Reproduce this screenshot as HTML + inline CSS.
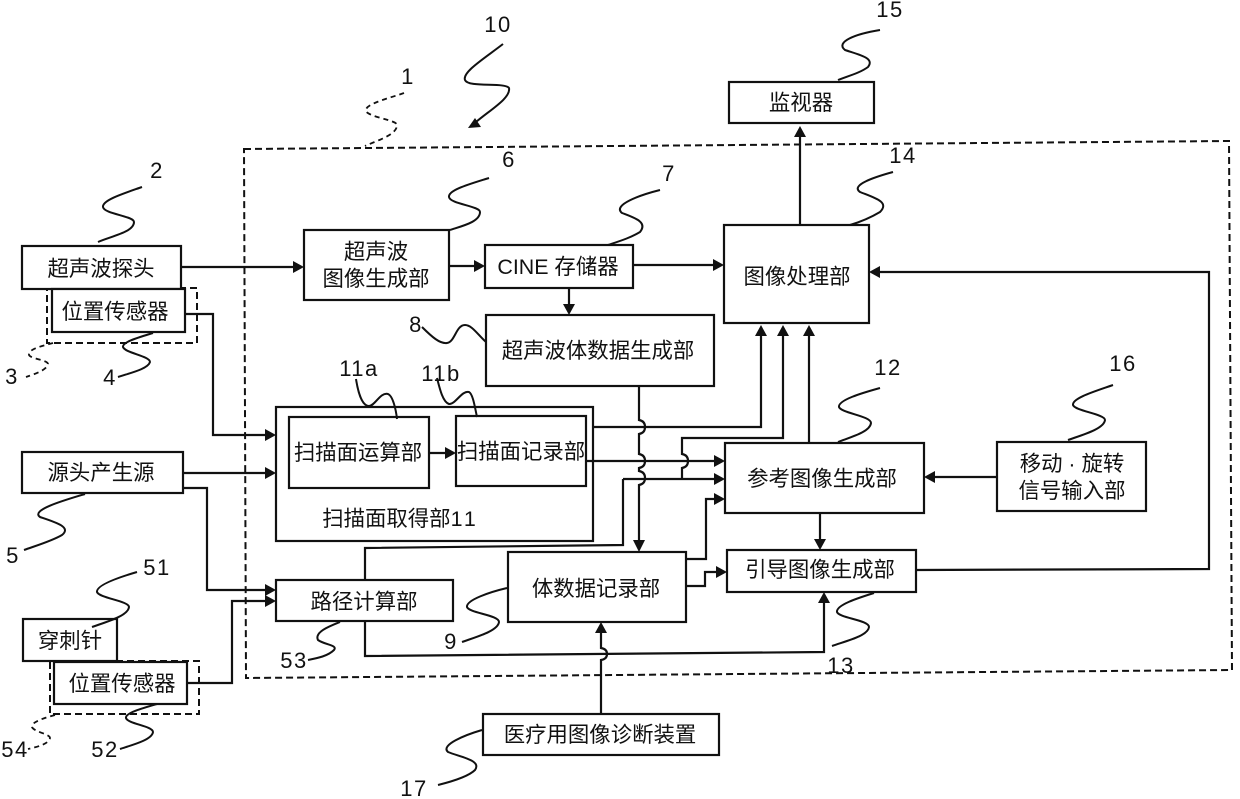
<!DOCTYPE html>
<html><head><meta charset="utf-8"><style>
html,body{margin:0;padding:0;background:#fff}
svg{display:block}
text{font-family:"Liberation Sans","Noto Sans CJK SC",sans-serif;fill:#111}
.c{font-size:21.4px;text-anchor:middle}
.n{font-size:22px;text-anchor:middle;letter-spacing:1.5px}
.b{fill:#fff;stroke:#111;stroke-width:2.2}
.l{fill:none;stroke:#111;stroke-width:2.2}
.d{fill:none;stroke:#111;stroke-width:2;stroke-dasharray:7 4}
.s{fill:none;stroke:#111;stroke-width:2}
.ds{fill:none;stroke:#111;stroke-width:1.8;stroke-dasharray:5 4}
.a{fill:#111;stroke:none}
</style></head><body>
<svg width="1240" height="799" viewBox="0 0 1240 799" xmlns="http://www.w3.org/2000/svg">
<rect width="1240" height="799" fill="#fff"/>
<path class="d" d="M244,149 L1229,141 L1232,670 L246,678 Z"/>
<rect class="d" x="47" y="288" width="150" height="55"/>
<rect class="d" x="50" y="661" width="149" height="53"/>
<!-- connectors -->
<path class="l" d="M181,267H296M449,266H477M633,265H716M569,288V307M800,225V133"/>
<path class="l" d="M185,314H213V435H268M183,473H268M183,488H207V590H268M187,683H232V601H268M429,453H448"/>
<path class="l" d="M639,386V420q6,1 6,7t-6,7V454q6,1 6,7t-6,7V471q6,1 6,7t-6,7V540"/>
<path class="l" d="M593,427H761V333"/>
<path class="l" d="M586,461H714"/>
<path class="l" d="M623,479V545L365,548V580M623,479H714"/>
<path class="l" d="M682,478V468q6,-1 6,-7t-6,-7V438H783V333"/>
<path class="l" d="M809,443V333M686,559H706V499H716M686,586H705V572H718"/>
<path class="l" d="M365,621V656L824,652V600"/>
<path class="l" d="M601,714V660q6,-1 6,-6t-6,-6V630"/>
<path class="l" d="M820,513V542M997,477H932M916,570L1209,569V272H877"/>
<!-- arrowheads -->
<g class="a">
<path d="M304,267l-11,-6v12zM485,266l-11,-6v12zM724,265l-11,-6v12zM569,315l-6,-11h12zM800,126l-6,11h12z"/>
<path d="M276,435l-11,-6v12zM276,473l-11,-6v12zM276,590l-11,-6v12zM276,601l-11,-6v12zM456,453l-11,-6v12z"/>
<path d="M639,552l-6,-12h12zM761,325l-6,11h12zM783,325l-6,11h12zM809,325l-6,11h12z"/>
<path d="M725,461l-11,-6v12zM725,479l-11,-6v12zM725,499l-11,-6v12zM727,572l-11,-6v12z"/>
<path d="M824,592l-6,11h12zM601,622l-6,11h12zM820,550l-6,-11h12zM924,477l11,-6v12zM869,272l11,-6v12z"/>
<path d="M468,128l7,-10l6,9z"/>
</g>
<!-- boxes -->
<rect class="b" x="22" y="246" width="159" height="43"/>
<rect class="b" x="52" y="289" width="133" height="43"/>
<rect class="b" x="304" y="230" width="145" height="70"/>
<rect class="b" x="485" y="245" width="148" height="43"/>
<rect class="b" x="486" y="315" width="228" height="71"/>
<rect class="b" x="724" y="225" width="145" height="98"/>
<rect class="b" x="729" y="82" width="145" height="41"/>
<rect class="l" x="276" y="407" width="317" height="134"/>
<rect class="b" x="289" y="417" width="140" height="71"/>
<rect class="b" x="456" y="416" width="130" height="70"/>
<rect class="b" x="725" y="443" width="199" height="70"/>
<rect class="b" x="727" y="550" width="189" height="42"/>
<rect class="b" x="508" y="552" width="178" height="70"/>
<rect class="b" x="276" y="580" width="177" height="41"/>
<rect class="b" x="997" y="442" width="149" height="69"/>
<rect class="b" x="22" y="452" width="161" height="41"/>
<rect class="b" x="23" y="619" width="94" height="42"/>
<rect class="b" x="54" y="662" width="133" height="42"/>
<rect class="b" x="483" y="714" width="236" height="41"/>
<!-- box labels -->
<text class="c" x="101" y="276">超声波探头</text>
<text class="c" x="115" y="319">位置传感器</text>
<text class="c" x="376" y="259">超声波</text>
<text class="c" x="376" y="286">图像生成部</text>
<text class="c" x="558" y="274">CINE 存储器</text>
<text class="c" x="598" y="358">超声波体数据生成部</text>
<text class="c" x="797" y="284">图像处理部</text>
<text class="c" x="801" y="110">监视器</text>
<text class="c" x="358" y="460">扫描面运算部</text>
<text class="c" x="521" y="459">扫描面记录部</text>
<text class="c" x="399" y="526">扫描面取得部1<tspan dx="3">1</tspan></text>
<text class="c" x="822" y="486">参考图像生成部</text>
<text class="c" x="820" y="577">引导图像生成部</text>
<text class="c" x="596" y="596">体数据记录部</text>
<text class="c" x="364" y="609">路径计算部</text>
<text class="c" x="1072" y="471">移动 · 旋转</text>
<text class="c" x="1072" y="498">信号输入部</text>
<text class="c" x="101" y="480">源头产生源</text>
<text class="c" x="70" y="648">穿刺针</text>
<text class="c" x="122" y="691">位置传感器</text>
<text class="c" x="600" y="742">医疗用图像诊断装置</text>
<!-- squiggles -->
<path class="s" d="M503,44C485,58 462,72 465,80C468,88 505,82 509,88C511,98 490,110 476,122"/>
<path class="ds" d="M404,93C390,98 364,104 366,111C368,117 397,120 397,125C397,135 378,140 365,146"/>
<path class="s" d="M880,30C855,34 835,42 845,50C860,55 875,58 868,67C860,73 848,76 838,80"/>
<path class="s" d="M142,187C125,193 102,200 103,207C104,214 134,216 134,222C134,232 112,236 98,242"/>
<path class="s" d="M489,178C470,184 448,190 449,197C450,204 480,206 480,212C480,222 462,226 450,230"/>
<path class="s" d="M660,190C640,195 612,205 622,213C635,218 648,222 640,232C630,238 620,241 608,245"/>
<path class="s" d="M893,172C875,177 850,185 860,192C875,198 890,202 880,212C870,218 860,222 850,225"/>
<path class="ds" d="M53,343C42,346 28,349 29,355C31,359 48,360 48,364C47,370 35,374 26,377"/>
<path class="s" d="M153,333C140,337 122,342 123,347C125,353 150,356 150,362C148,369 130,373 118,377"/>
<path class="s" d="M85,494C65,500 30,510 40,517C55,522 72,527 62,535C52,541 35,546 24,550"/>
<path class="s" d="M137,572C120,577 96,585 97,592C99,598 129,601 129,607C128,616 106,622 92,627"/>
<path class="s" d="M507,588C490,592 466,600 467,607C469,613 499,615 499,622C498,631 476,637 462,642"/>
<path class="s" d="M340,622C330,626 314,632 318,640C325,645 338,645 334,650C328,656 318,658 308,660"/>
<path class="s" d="M874,593C858,598 836,605 837,612C839,618 869,620 869,627C868,636 846,641 832,646"/>
<path class="ds" d="M55,715C44,718 31,722 32,727C34,732 50,734 50,738C49,744 37,747 28,749"/>
<path class="s" d="M157,704C143,708 125,713 126,718C128,724 153,726 153,732C152,740 132,745 120,749"/>
<path class="s" d="M482,730C465,735 440,745 448,752C460,757 482,760 475,770C468,777 450,782 438,785"/>
<path class="s" d="M422,327C432,337 440,344 447,343C455,342 456,325 465,325C472,325 478,335 486,342"/>
<path class="s" d="M356,379C358,392 362,406 369,406C375,406 380,392 388,394C393,396 396,410 397,419"/>
<path class="s" d="M437,378C440,390 443,402 449,404C455,405 462,390 469,392C473,394 475,408 477,417"/>
<path class="s" d="M880,388C862,393 838,400 839,407C841,413 871,416 871,423C870,432 851,437 838,442"/>
<path class="s" d="M1113,385C1096,391 1072,398 1073,405C1075,411 1105,414 1105,420C1104,429 1082,435 1068,440"/>
<!-- numeric labels -->
<text class="n" x="498" y="32">10</text>
<text class="n" x="408" y="84">1</text>
<text class="n" x="890" y="17">15</text>
<text class="n" x="157" y="178">2</text>
<text class="n" x="509" y="167">6</text>
<text class="n" x="669" y="181">7</text>
<text class="n" x="903" y="163">14</text>
<text class="n" x="416" y="332">8</text>
<text class="n" x="359" y="376">11a</text>
<text class="n" x="441" y="381">11b</text>
<text class="n" x="888" y="375">12</text>
<text class="n" x="1123" y="371">16</text>
<text class="n" x="12" y="384">3</text>
<text class="n" x="110" y="385">4</text>
<text class="n" x="13" y="563">5</text>
<text class="n" x="157" y="575">51</text>
<text class="n" x="451" y="649">9</text>
<text class="n" x="294" y="668">53</text>
<text class="n" x="841" y="673">13</text>
<text class="n" x="15" y="757">54</text>
<text class="n" x="105" y="757">52</text>
<text class="n" x="414" y="796">17</text>
</svg>
</body></html>
